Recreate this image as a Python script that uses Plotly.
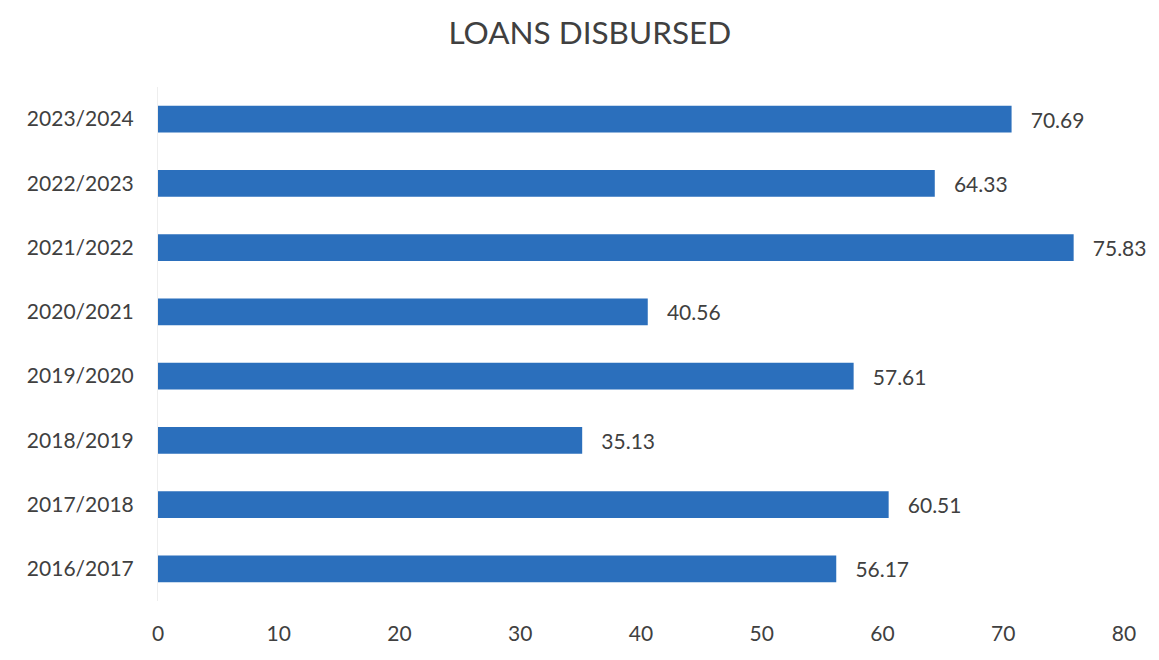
import plotly.graph_objects as go

years = ["2016/2017", "2017/2018", "2018/2019", "2019/2020",
         "2020/2021", "2021/2022", "2022/2023", "2023/2024"]
loans = [56.17, 60.51, 35.13, 57.61, 40.56, 75.83, 64.33, 70.69]
x_ticks = [0, 10, 20, 30, 40, 50, 60, 70, 80]

FONT = "Lato, Open Sans, sans-serif"
TXT = "#404040"

fig = go.Figure(go.Bar(
    y=years, x=loans, orientation="h",
    marker=dict(color="#2B6FBC", line=dict(width=0)),
    width=0.42,
    text=["\u00a0\u00a0\u00a0" + f"{v:.2f}" for v in loans],
    textposition="outside",
    textfont=dict(family=FONT, size=21, color=TXT),
    cliponaxis=False,
))

fig.update_layout(
    width=1159, height=660,
    paper_bgcolor="white", plot_bgcolor="white",
    margin=dict(l=150, r=43, t=79, b=67),
    title=dict(text="LOANS DISBURSED", x=0.502, xanchor="center", y=0.962, yanchor="middle",
               font=dict(family=FONT, size=31.5, color=TXT)),
    showlegend=False,
)
fig.update_xaxes(range=[0, 80], tickvals=x_ticks, showgrid=False, zeroline=False,
                 showline=False, ticks="", ticklabelstandoff=18,
                 tickfont=dict(family=FONT, size=21, color=TXT))
fig.update_yaxes(showgrid=False, zeroline=False, showline=True, linecolor="#eeeeee",
                 linewidth=1, ticks="", ticklabelstandoff=19,
                 tickfont=dict(family=FONT, size=21, color=TXT))

fig.write_html("out.html")
